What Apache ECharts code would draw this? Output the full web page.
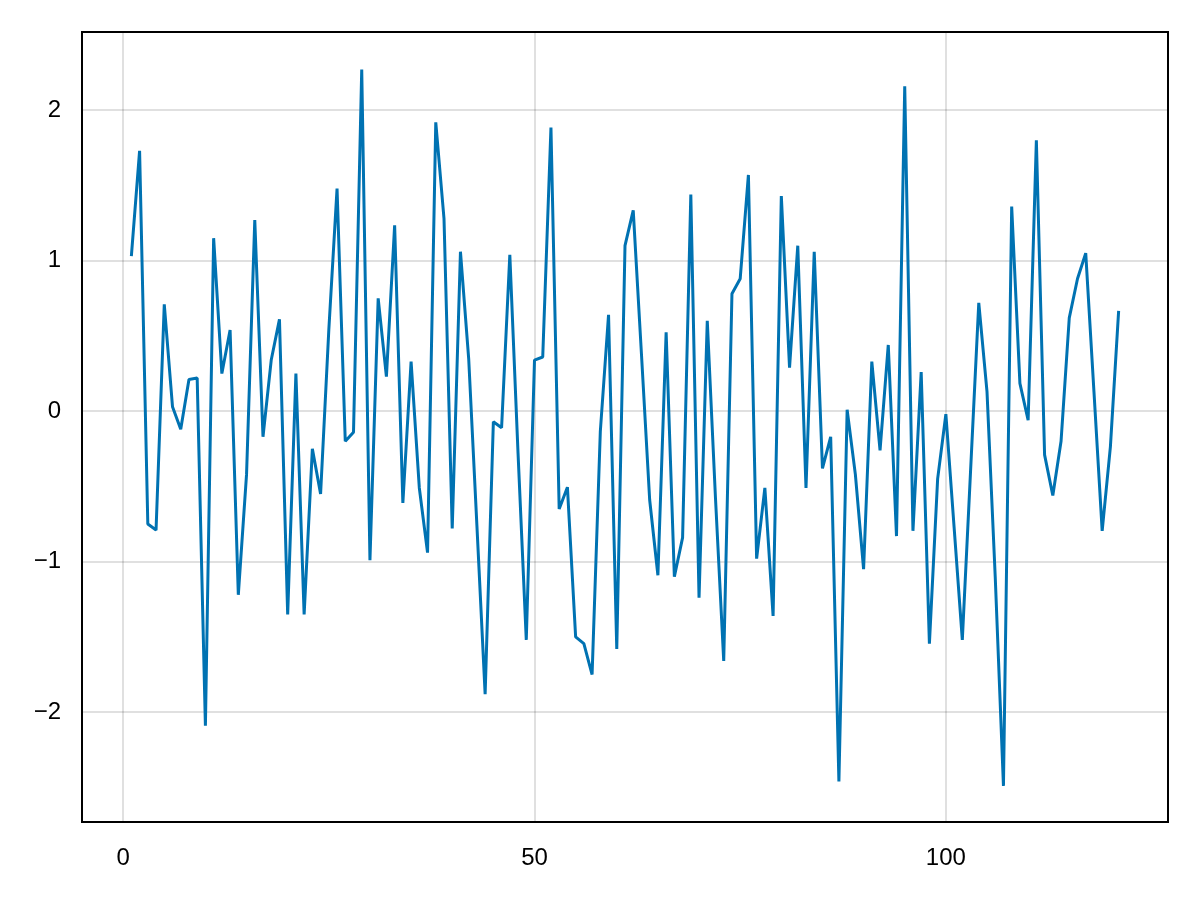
<!DOCTYPE html>
<html>
<head>
<meta charset="utf-8">
<script src="https://cdn.jsdelivr.net/npm/echarts@6/dist/echarts.min.js"></script>
<style>
html,body{margin:0;padding:0;background:#fff;}
#chart{width:1200px;height:900px;}
</style>
</head>
<body>
<div id="chart"></div>
<script>
const xValues = [];
const yValues = [
  1.03, 1.73, -0.75, -0.79, 0.71, 0.03, -0.12, 0.21, 0.22, -2.09,
  1.15, 0.25, 0.54, -1.22, -0.42, 1.27, -0.17, 0.34, 0.61, -1.35,
  0.25, -1.35, -0.25, -0.55, 0.54, 1.48, -0.20, -0.14, 2.27, -0.99,
  0.75, 0.23, 1.235, -0.61, 0.33, -0.51, -0.94, 1.92, 1.28, -0.78,
  1.06, 0.35, -0.76, -1.88, -0.07, -0.11, 1.04, -0.28, -1.52, 0.34,
  0.36, 1.885, -0.65, -0.505, -1.50, -1.545, -1.75, -0.135, 0.64, -1.58,
  1.10, 1.335, 0.38, -0.59, -1.09, 0.525, -1.10, -0.84, 1.44, -1.24,
  0.60, -0.58, -1.66, 0.78, 0.88, 1.57, -0.98, -0.51, -1.36, 1.43,
  0.29, 1.10, -0.51, 1.06, -0.38, -0.17, -2.46, 0.01, -0.42, -1.05,
  0.33, -0.26, 0.44, -0.83, 2.16, -0.795, 0.26, -1.545, -0.45, -0.02,
  -0.77, -1.52, -0.40, 0.72, 0.13, -1.10, -2.49, 1.36, 0.185, -0.06,
  1.80, -0.29, -0.56, -0.20, 0.62, 0.88, 1.05, 0.13, -0.795, -0.235,
  0.667
];
for (let i = 0; i < yValues.length; i++) xValues.push(i + 1);
const xTicks = [0, 50, 100];
const yTicks = [-2, -1, 0, 1, 2];

const fmt = v => (v < 0 ? '\u2212' + Math.abs(v) : String(v));
const chart = echarts.init(document.getElementById('chart'));
chart.setOption({
  animation: false,
  backgroundColor: '#fff',
  grid: { left: 82, right: 32, top: 32, bottom: 78, show: true, borderColor: '#000', borderWidth: 2, containLabel: false },
  xAxis: {
    type: 'value', min: -5, max: 127,
    axisLine: { show: false, onZero: false },
    axisTick: { show: false, customValues: xTicks },
    splitLine: { show: true, lineStyle: { color: 'rgba(0,0,0,0.12)', width: 2 } },
    axisLabel: { customValues: xTicks, formatter: fmt, fontFamily: 'Liberation Sans', fontSize: 24, color: '#000', margin: 24 }
  },
  yAxis: {
    type: 'value', min: -2.73, max: 2.52,
    axisLine: { show: false, onZero: false },
    axisTick: { show: false, customValues: yTicks },
    splitLine: { show: true, lineStyle: { color: 'rgba(0,0,0,0.12)', width: 2 } },
    axisLabel: { customValues: yTicks, formatter: fmt, fontFamily: 'Liberation Sans', fontSize: 24, color: '#000', margin: 21 }
  },
  series: [{
    type: 'line',
    data: xValues.map((x, i) => [x, yValues[i]]),
    showSymbol: false,
    lineStyle: { color: '#0072B2', width: 3 },
    itemStyle: { color: '#0072B2' }
  }]
});
</script>
</body>
</html>
